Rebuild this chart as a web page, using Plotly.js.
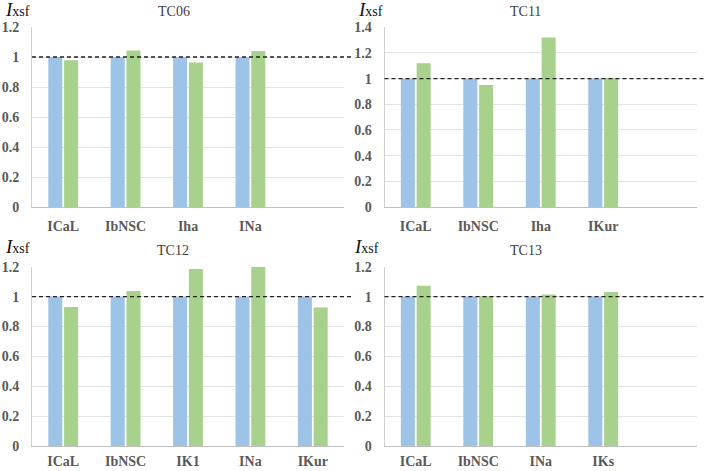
<!DOCTYPE html>
<html>
<head>
<meta charset="utf-8">
<script src="https://cdn.plot.ly/plotly-3.0.1.min.js"></script>
<style>html,body{margin:0;padding:0;background:#fff;}#chart{width:708px;height:471px;}</style>
</head>
<body>
<div id="chart"></div>
<script>
// ---- data ----
var panelTitles = ['TC06', 'TC11', 'TC12', 'TC13'];
var tc06Cats = ['ICaL', 'IbNSC', 'Iha', 'INa'];
var tc06Base = [1, 1, 1, 1];
var tc06Opt  = [0.978, 1.043, 0.964, 1.04];
var tc11Cats = ['ICaL', 'IbNSC', 'Iha', 'IKur'];
var tc11Base = [1, 1, 1, 1];
var tc11Opt  = [1.119, 0.95, 1.32, 1.005];
var tc12Cats = ['ICaL', 'IbNSC', 'IK1', 'INa', 'IKur'];
var tc12Base = [1, 1, 1, 1, 1];
var tc12Opt  = [0.931, 1.038, 1.185, 1.2, 0.928];
var tc13Cats = ['ICaL', 'IbNSC', 'INa', 'IKs'];
var tc13Base = [1, 1, 1, 1];
var tc13Opt  = [1.073, 1.002, 1.015, 1.031];
var yMax = [1.2, 1.4, 1.2, 1.2];
var refLevel = 1;

// ---- styling ----
var W = 708, H = 471;
var blue = '#9DC3E6', green = '#A9D18E';
var serif = 'Liberation Serif, Times New Roman, serif';
var gray = '#595959';

var panels = [
  {cats: tc06Cats, base: tc06Base, opt: tc06Opt},
  {cats: tc11Cats, base: tc11Base, opt: tc11Opt},
  {cats: tc12Cats, base: tc12Base, opt: tc12Opt},
  {cats: tc13Cats, base: tc13Base, opt: tc13Opt}
];
// pixel boxes [left, right, top, bottom]
var boxes = [[32, 344, 27, 207], [384.5, 697, 27.3, 207], [32, 344, 266.7, 446.3], [384.5, 697, 266.7, 446.3]];
var xStandoff = [6, 6, 2, 2];
var titlePos = [[174, 12], [525, 12], [173, 250], [526, 250]];
var labelPos = [[3, 10], [356, 10], [3, 246], [352, 246]];

var data = [], shapes = [], annotations = [];
var layout = {
  width: W, height: H,
  margin: {l: 0, r: 0, t: 0, b: 0},
  paper_bgcolor: '#fff', plot_bgcolor: '#fff',
  showlegend: false,
  barmode: 'group', bargap: 0.495, bargroupgap: 0.11,
  font: {family: serif, color: gray}
};

panels.forEach(function (p, i) {
  var n = i + 1;
  var xa = 'x' + (n === 1 ? '' : n), ya = 'y' + (n === 1 ? '' : n);
  var b = boxes[i];
  data.push({type: 'bar', x: p.cats, y: p.base, xaxis: xa, yaxis: ya,
    marker: {color: blue}, hoverinfo: 'none'});
  data.push({type: 'bar', x: p.cats, y: p.opt, xaxis: xa, yaxis: ya,
    marker: {color: green}, hoverinfo: 'none'});
  layout['xaxis' + (n === 1 ? '' : n)] = {
    domain: [b[0] / W, b[1] / W], anchor: ya,
    type: 'category', categoryorder: 'array', categoryarray: p.cats,
    range: [-0.5, 4.5], showgrid: false, zeroline: false,
    showline: true, linecolor: '#bfbfbf', linewidth: 1,
    ticks: '', ticklabelstandoff: xStandoff[i],
    tickfont: {family: serif, size: 14, color: gray, weight: 'bold'},
    fixedrange: true
  };
  layout['yaxis' + (n === 1 ? '' : n)] = {
    domain: [1 - b[3] / H, 1 - b[2] / H], anchor: xa,
    range: [0, yMax[i]], dtick: 0.2, tick0: 0,
    showgrid: true, gridcolor: '#e3e3e3', gridwidth: 1, zeroline: false,
    showline: true, linecolor: '#d0d0d0', linewidth: 1,
    ticks: '', ticklabelstandoff: 9,
    tickfont: {family: serif, size: 14, color: gray, weight: 'bold'},
    fixedrange: true
  };
  shapes.push({type: 'line', xref: 'paper', yref: ya,
    x0: b[0] / W, x1: (b[1] + 8) / W, y0: refLevel, y1: refLevel,
    line: {color: '#222', width: 1.3, dash: '4px,3px'}, layer: 'above'});
  annotations.push({xref: 'paper', yref: 'paper', x: titlePos[i][0] / W, y: 1 - titlePos[i][1] / H,
    xanchor: 'center', yanchor: 'middle', showarrow: false, text: panelTitles[i],
    font: {family: serif, size: 14, color: '#404040'}});
  annotations.push({xref: 'paper', yref: 'paper', x: labelPos[i][0] / W, y: 1 - labelPos[i][1] / H,
    xanchor: 'left', yanchor: 'middle', showarrow: false,
    text: '<i>I</i><span style="font-size:14px">xsf</span>',
    font: {family: serif, size: 19, color: '#111'}});
});
layout.shapes = shapes;
layout.annotations = annotations;

Plotly.newPlot('chart', data, layout, {displayModeBar: false, staticPlot: true});
</script>
</body>
</html>
